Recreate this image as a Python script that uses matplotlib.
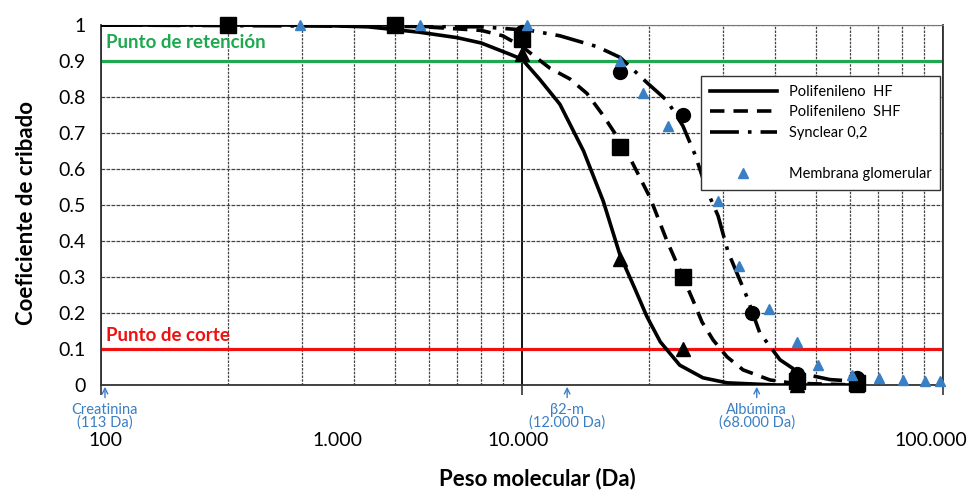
import numpy as np
import matplotlib.pyplot as plt
from matplotlib.lines import Line2D

plt.rcParams['font.family'] = ['Lato', 'DejaVu Sans']

# curves (molecular weight in Da, sieving coefficient)
hf_x = [1000, 3000, 4300, 5700, 7000, 8000, 9300, 10000, 11000, 12300, 14000, 15600,
        17100, 18500, 19800, 21300, 23700, 26900, 30700, 40000, 62500]
hf_y = [1.0, 1.0, 0.995, 0.98, 0.965, 0.95, 0.92, 0.905, 0.85, 0.78, 0.65, 0.51,
        0.36, 0.27, 0.19, 0.12, 0.055, 0.02, 0.006, 0.0, 0.0]

shf_x = [1000, 5000, 8000, 9000, 10000, 11650, 13000, 14260, 15560, 16820, 18060, 20150,
         22100, 24100, 25460, 26760, 28440, 30700, 33500, 38800, 44000, 62500]
shf_y = [1.0, 1.0, 0.985, 0.97, 0.94, 0.88, 0.85, 0.81, 0.75, 0.69, 0.63, 0.52,
         0.40, 0.30, 0.236, 0.175, 0.125, 0.078, 0.042, 0.014, 0.005, 0.0]

syn_x = [1000, 8000, 10440, 12300, 15060, 17100, 19800, 22100, 24100, 25760, 27500, 29220,
         30850, 34200, 36700, 41000, 45700, 53900, 62500]
syn_y = [1.0, 0.995, 0.985, 0.97, 0.94, 0.91, 0.84, 0.79, 0.72, 0.64, 0.54, 0.47,
         0.37, 0.245, 0.145, 0.07, 0.033, 0.015, 0.01]

# measured points
sq_x = [2000, 5000, 10000, 17100, 24100, 45000, 62500]
sq_y = [1.0, 1.0, 0.96, 0.66, 0.30, 0.01, 0.005]
circ_x = [2000, 5000, 10000, 17100, 24100, 35200, 45000, 62500]
circ_y = [1.0, 1.0, 0.98, 0.87, 0.75, 0.20, 0.03, 0.02]
tri_x = [2000, 5000, 10000, 17100, 24100, 45000, 62500]
tri_y = [1.0, 1.0, 0.92, 0.35, 0.10, 0.0, 0.0]

glom_x = [2970, 5730, 10280, 17100, 19370, 22230, 29250, 32700, 38600, 45000, 50500,
          60800, 70500, 80400, 90600, 98400]
glom_y = [1.0, 1.0, 1.0, 0.90, 0.81, 0.72, 0.51, 0.33, 0.21, 0.12, 0.055,
          0.028, 0.02, 0.014, 0.01, 0.01]

# axis labels as printed on the chart
tick_pos = [1022, 3640, 9780, 93600]
tick_labels = ['100', '1.000', '10.000', '100.000']
yticks = [0, 0.1, 0.2, 0.3, 0.4, 0.5, 0.6, 0.7, 0.8, 0.9, 1.0]
ytick_labels = ['0', '0.1', '0.2', '0.3', '0.4', '0.5', '0.6', '0.7', '0.8', '0.9', '1']

markers_pos = [1022, 12800, 36100]
markers_text = ['Creatinina\n(113 Da)', 'β2-m\n(12.000 Da)', 'Albúmina\n(68.000 Da)']

blue = '#3a7fc4'
green = '#1fa84f'
red = '#f01010'

fig = plt.figure(figsize=(9.73, 4.96), dpi=100)
ax = fig.add_axes([0.1038, 0.2238, 0.8654, 0.7258])

ax.set_xscale('log')
ax.set_xlim(1000, 100000)
ax.set_ylim(0, 1)

# grid
ax.set_yticks(yticks)
ax.set_yticklabels(ytick_labels, fontsize=14)
ax.tick_params(axis='y', length=0, pad=11)
ax.grid(axis='y', which='major', color='#444444', lw=0.9, linestyle=(0, (3, 1)))
ax.set_xticks([1000, 10000, 100000])
ax.set_xticklabels(['', '', ''])
ax.set_xticks([k * d for d in (1000, 10000) for k in range(2, 10)], minor=True)
ax.tick_params(axis='x', which='major', length=7, width=1.2, color='#333333')
ax.tick_params(axis='x', which='minor', length=0)
ax.xaxis.set_minor_formatter(plt.NullFormatter())
ax.grid(axis='x', which='minor', color='#444444', lw=0.9, linestyle=(0, (2, 1)))
ax.grid(axis='x', which='major', color='black', lw=1.3, linestyle='-')
ax.set_axisbelow(True)

for s in ['left', 'bottom', 'right']:
    ax.spines[s].set_color('#333333')
    ax.spines[s].set_linewidth(1.3)
ax.spines['top'].set_color('#777777')

# reference lines
ax.axhline(0.9, color=green, lw=2.3, zorder=2)
ax.axhline(0.1, color=red, lw=2.3, zorder=2)
ax.text(1030, 0.95, 'Punto de retención', color=green, fontsize=13.5, fontweight='bold',
        va='center', ha='left')
ax.text(1030, 0.137, 'Punto de corte', color=red, fontsize=13.5, fontweight='bold',
        va='center', ha='left')

# curves
ax.plot(hf_x, hf_y, color='black', lw=2.6, label='Polifenileno  HF', zorder=3)
ax.plot(shf_x, shf_y, color='black', lw=2.6, linestyle=(0, (4, 2.5)),
        label='Polifenileno  SHF', zorder=3)
ax.plot(syn_x, syn_y, color='black', lw=2.6, linestyle=(0, (8, 2.5, 1, 2.5)),
        label='Synclear 0,2', zorder=3)

ax.plot(sq_x, sq_y, 's', color='black', ms=11, zorder=4, clip_on=False)
ax.plot(circ_x, circ_y, 'o', color='black', ms=10, zorder=4, clip_on=False)
ax.plot(tri_x, tri_y, '^', color='black', ms=10, zorder=4, clip_on=False)
ax.plot(glom_x, glom_y, '^', color=blue, ms=6.5, linestyle='none', zorder=5,
        clip_on=False, label='Membrana glomerular')

# legend with an empty row before the glomerular membrane
handles, labels = ax.get_legend_handles_labels()
blank = Line2D([], [], color='none')
handles = handles[:3] + [blank] + handles[3:]
labels = labels[:3] + [' '] + labels[3:]
leg = ax.legend(handles, labels, loc='upper right', bbox_to_anchor=(0.9964, 0.858),
                borderaxespad=0, fontsize=10.5, handlelength=4.6, fancybox=False,
                framealpha=1, edgecolor='#333333', borderpad=0.6, labelspacing=0.45)
leg.get_frame().set_linewidth(1.0)

# x tick labels drawn where the original shows them
trans = ax.get_xaxis_transform()
for pos, lab in zip(tick_pos, tick_labels):
    ax.text(pos, -0.153, lab, transform=trans, ha='center', va='center', fontsize=14,
            clip_on=False)

# molecule markers below the axis
for pos, lab in zip(markers_pos, markers_text):
    ax.annotate('', xy=(pos, -0.005), xytext=(pos, -0.035), xycoords=trans,
                textcoords=trans,
                arrowprops=dict(arrowstyle='->', color=blue, lw=1.0, shrinkA=0, shrinkB=0))
    ax.text(pos, -0.087, lab, transform=trans, ha='center', va='center', fontsize=10.5,
            color=blue, linespacing=0.9)

fig.text(0.552, 0.035, 'Peso molecular (Da)', ha='center', va='center', fontsize=16,
         fontweight='bold')
fig.text(0.027, 0.57, 'Coeficiente de cribado', ha='center', va='center', fontsize=16,
         fontweight='bold', rotation=90)

fig.savefig('out.png', dpi=100)
